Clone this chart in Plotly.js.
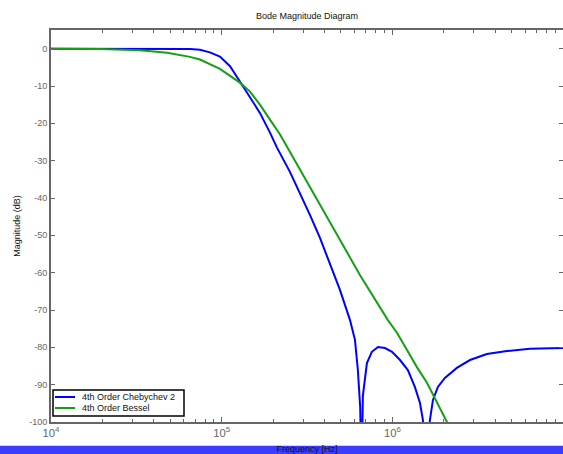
<!DOCTYPE html>
<html>
<head>
<meta charset="utf-8">
<script src="https://cdn.plot.ly/plotly-3.0.1.min.js"></script>
<style>html,body{margin:0;padding:0;background:#fff;}#chart{width:563px;height:454px;}</style>
</head>
<body>
<div id="chart"></div>
<script>
// Frequencies in Hz, magnitudes in dB
const chebFreq = [10000, 25000, 51900, 57000, 65200, 74600, 85300, 97700, 111900, 127900, 146600, 167500, 191900, 210900, 251200, 287700, 328900, 376700, 430500, 493200, 564900, 604000, 628000, 648000, 660000, 672000, 709600, 758600, 824300, 905700, 995400, 1109000, 1233000, 1355000, 1452000, 1511000, 1552000, 1660000, 1730000, 1849000, 2032000, 2388000, 2851000, 3581000, 4690000, 6397000, 10000000];
const chebMag  = [0, 0, 0, -0.05, -0.1, -0.3, -1.0, -2.1, -4.7, -8.8, -13.1, -17.2, -22.5, -26.5, -33.0, -38.6, -44.5, -50.7, -57.4, -64.6, -72.7, -78.0, -86.0, -96.0, -115, -93.0, -84.2, -81.2, -79.9, -80.2, -81.2, -83.4, -86.1, -90.6, -94.9, -99.5, -115, -99.5, -94.1, -90.6, -88.2, -85.5, -83.4, -81.8, -81.0, -80.4, -80.2];

const besselFreq = [10000, 19400, 33200, 47900, 65200, 74600, 97700, 127900, 146600, 167500, 191900, 219800, 241500, 287700, 376700, 493200, 645700, 941900, 1064000, 1219000, 1393000, 1596000, 1778000, 2032000, 2089000, 2200000];
const besselMag  = [0, -0.1, -0.45, -1.1, -2.2, -2.9, -5.4, -9.1, -11.5, -15.0, -19.0, -23.0, -26.3, -32.4, -41.8, -51.2, -60.6, -72.7, -76.1, -80.7, -85.3, -89.5, -93.6, -98.9, -100, -102];

const seriesNames = ['4th Order Chebychev 2', '4th Order Bessel'];
const seriesColors = ['#0000ff', '#14a014'];
const yTickVals = [0, -10, -20, -30, -40, -50, -60, -70, -80, -90, -100];
const yTickText = yTickVals.map(v => String(v));

const traces = [
  {x: chebFreq, y: chebMag, type: 'scatter', mode: 'lines', name: seriesNames[0],
   line: {color: seriesColors[0], width: 2}, showlegend: false},
  {x: besselFreq, y: besselMag, type: 'scatter', mode: 'lines', name: seriesNames[1],
   line: {color: seriesColors[1], width: 2}, showlegend: false}
];

const FONT = 'Liberation Sans, Arial, sans-serif';
const axisCommon = {
  showgrid: false, zeroline: false,
  showline: true, linecolor: '#666666', linewidth: 2,
  mirror: 'allticks', ticks: 'inside', tickcolor: '#666666',
  tickfont: {family: FONT, size: 9, color: '#666666'}
};

// plot area geometry in pixels, used to place the hand-drawn legend box
const L = 51, T = 30, W = 512, H = 392;
const px = X => (X - L) / W;
const py = Y => (T + H - Y) / H;

const legendShapes = [
  {type: 'rect', xref: 'paper', yref: 'paper', layer: 'above',
   x0: px(53), x1: px(184), y0: py(416), y1: py(390),
   fillcolor: '#ffffff', line: {color: '#000000', width: 1.5}}
];
const legendAnn = [];
const rowsY = [397, 408];
seriesNames.forEach((name, i) => {
  legendShapes.push({type: 'line', xref: 'paper', yref: 'paper', layer: 'above',
    x0: px(55), x1: px(75), y0: py(rowsY[i]), y1: py(rowsY[i]),
    line: {color: seriesColors[i], width: 2}});
  legendAnn.push({xref: 'paper', yref: 'paper', x: px(80), y: py(rowsY[i]),
    xanchor: 'left', yanchor: 'middle', showarrow: false, text: name,
    font: {family: FONT, size: 9, color: '#111'}});
});

const layout = {
  width: 563, height: 454,
  margin: {l: L, r: 0, t: T, b: 454 - T - H},
  paper_bgcolor: '#ffffff', plot_bgcolor: '#ffffff',
  font: {family: FONT, size: 9, color: '#000'},
  title: {text: 'Bode Magnitude Diagram', font: {size: 9, color: '#111'},
          x: 0.5, xref: 'paper', y: 1 - 16/454, yanchor: 'middle'},
  xaxis: Object.assign({}, axisCommon, {
    type: 'log', range: [4, 7], dtick: 1, exponentformat: 'power',
    ticklen: 5, tickwidth: 1,
    minor: {ticks: 'inside', ticklen: 3, tickcolor: '#666666', dtick: 'D1', showgrid: false},
    title: {text: 'Frequency [Hz]', font: {size: 9, color: '#111'}, standoff: 9}
  }),
  yaxis: Object.assign({}, axisCommon, {
    range: [-100, 5], tickvals: yTickVals, ticktext: yTickText, ticklen: 4,
    title: {text: 'Magnitude (dB)', font: {size: 9, color: '#111'}, standoff: 7}
  }),
  showlegend: false,
  annotations: legendAnn,
  shapes: [{type: 'rect', xref: 'paper', yref: 'paper', layer: 'above',
            x0: -L/W, x1: 1.01, y0: -0.1, y1: py(445.7),
            fillcolor: '#3c3cff', line: {width: 0}}].concat(legendShapes)
};

Plotly.newPlot('chart', traces, layout, {displayModeBar: false, staticPlot: true});
</script>
</body>
</html>
